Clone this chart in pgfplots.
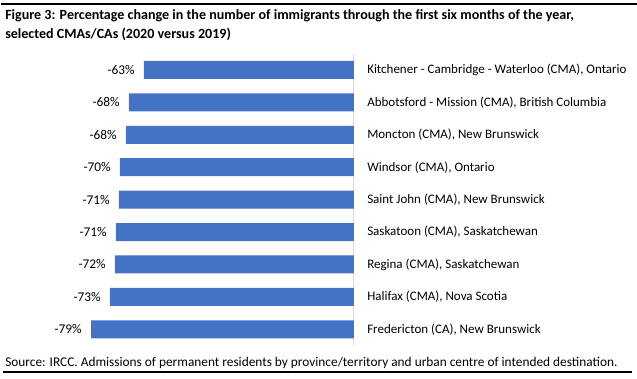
\documentclass[border=0pt]{standalone}
\usepackage{fontspec}
\setmainfont{Carlito}
\usepackage{pgfplots}
\pgfplotsset{compat=1.18}
\definecolor{barblue}{HTML}{4472C4}
\definecolor{zeroline}{HTML}{D9D9D9}
\begin{document}
\begin{tikzpicture}
\path[use as bounding box] (0pt,0pt) rectangle (477.75pt,-284.25pt);
\draw[black, line width=1pt] (0.5pt,-3pt) -- (477.75pt,-3pt);
\draw[black, line width=1pt] (2.25pt,-279pt) -- (474pt,-279pt);
\node[anchor=base west, inner sep=0pt, font=\fontsize{10.55}{13}\selectfont\bfseries] at (3.75pt,-14.6pt) {Figure 3: Percentage change in the number of immigrants through the first six months of the year,};
\node[anchor=base west, inner sep=0pt, font=\fontsize{10.55}{13}\selectfont\bfseries] at (3.75pt,-28.8pt) {selected CMAs/CAs (2020 versus 2019)};
\node[anchor=base west, inner sep=0pt, font=\fontsize{10}{12}\selectfont] at (3.75pt,-274.5pt) {Source: IRCC. Admissions of permanent residents by province/territory and urban centre of intended destination.};
\begin{axis}[
  at={(68.25pt,-259.1pt)}, anchor=south west,
  scale only axis, width=197.25pt, height=218.8pt,
  xbar, bar width=13.5pt,
  xmin=-79, xmax=0, ymin=-0.5, ymax=8.5,
  axis x line=none,
  axis y line=right,
  y axis line style={-, draw=zeroline, line width=0.75pt},
  ytick={0,...,8},
  yticklabels={{Fredericton (CA), New Brunswick},{Halifax (CMA), Nova Scotia},{Regina (CMA), Saskatchewan},{Saskatoon (CMA), Saskatchewan},{Saint John (CMA), New Brunswick},{Windsor (CMA), Ontario},{Moncton (CMA), New Brunswick},{Abbotsford - Mission (CMA), British Columbia},{Kitchener - Cambridge - Waterloo (CMA), Ontario}},
  major tick length=0pt,
  yticklabel style={anchor=west, inner sep=0pt, xshift=9.75pt, font=\fontsize{9.75}{12}\selectfont},
  point meta=explicit symbolic,
  nodes near coords={\pgfplotspointmeta\%},
  nodes near coords style={anchor=east, inner sep=0pt, xshift=-6.75pt, font=\fontsize{10}{12}\selectfont, text=black},
  clip=false,
]
\addplot[draw=none, fill=barblue] coordinates {
  (-79.0,0) [-79]
  (-73.3,1) [-73]
  (-71.8,2) [-72]
  (-71.5,3) [-71]
  (-70.6,4) [-71]
  (-70.3,5) [-70]
  (-68.5,6) [-68]
  (-67.6,7) [-68]
  (-63.1,8) [-63]
};
\end{axis}
\end{tikzpicture}
\end{document}
